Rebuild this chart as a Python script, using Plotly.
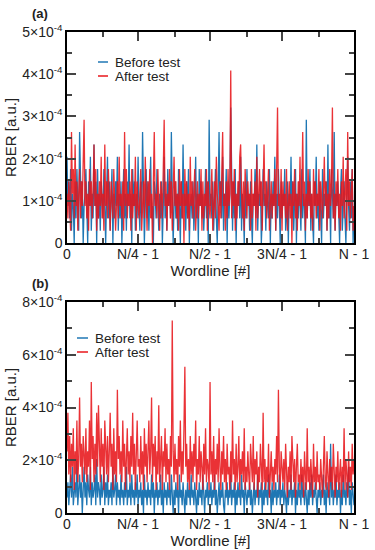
import plotly.graph_objects as go

# ---------------- data (error counts per wordline; RBER = count * unit) ----------------
RBER_UNIT = 2.92e-5
N = 320
x_tick_labels = ["0", "N/4 - 1", "N/2 - 1", "3N/4 - 1", "N - 1"]
series_names = ["Before test", "After test"]

a_before = [
    7,3,5,2,6,1,4,3,0,5,2,6,3,1,9,4,2,5,0,3,
    4,6,2,0,5,3,7,1,4,2,8,3,5,0,6,2,4,1,5,3,
    2,6,3,0,4,7,2,5,1,3,6,0,4,2,5,3,7,1,4,2,
    5,0,3,6,2,4,1,5,3,8,2,4,0,6,3,5,1,4,2,7,
    3,1,5,2,9,4,0,3,6,2,5,1,4,7,2,3,0,5,4,2,
    6,3,1,4,2,5,0,3,7,2,4,1,6,3,5,2,9,4,0,3,
    5,2,4,1,6,3,0,5,2,8,3,4,1,5,2,6,0,3,4,2,
    5,1,3,7,2,4,0,6,3,5,2,4,1,3,6,2,5,0,10,3,
    4,2,5,1,3,6,2,0,4,9,3,5,2,7,1,4,3,6,0,5,
    2,4,11,3,1,5,2,6,0,4,3,5,2,7,1,4,3,0,5,2,
    6,3,4,1,5,2,0,4,3,6,2,8,1,4,3,5,0,2,6,3,
    4,1,5,3,2,6,0,4,2,5,3,7,1,4,2,6,3,0,5,2,
    4,3,6,1,2,5,0,4,3,7,2,5,1,3,6,0,4,2,5,3,
    1,6,2,4,3,0,10,2,5,3,6,1,4,2,0,5,3,7,2,4,
    1,5,3,0,6,2,4,3,5,1,8,2,4,0,6,3,2,9,1,4,
    3,5,2,0,4,6,1,3,5,2,0,4,7,3,1,5,2,6,0,3,
]
a_after = [
    4,2,5,3,1,9,4,6,2,8,3,5,1,4,6,2,5,3,7,10,
    3,5,2,4,1,6,3,5,2,4,8,3,6,1,4,2,5,3,7,2,
    4,1,8,3,5,2,6,4,1,5,3,2,6,4,1,3,5,2,7,3,
    4,2,5,1,9,3,6,2,4,3,5,1,6,2,4,3,7,1,5,3,
    2,4,6,1,3,5,2,7,4,1,5,3,6,2,4,0,5,9,3,4,
    2,6,3,1,5,4,2,6,10,3,5,1,4,3,6,2,5,1,4,7,
    3,5,2,4,1,6,3,5,2,4,0,6,3,5,2,4,1,7,3,5,
    2,4,6,1,3,5,2,4,3,6,1,5,2,4,3,6,1,5,3,2,
    4,6,1,3,5,2,7,4,3,1,5,2,6,9,3,4,1,5,2,6,
    3,4,14,2,5,3,6,1,4,2,5,3,7,8,4,2,5,1,6,3,
    2,5,3,4,1,6,2,4,3,5,1,7,2,4,6,3,5,1,4,8,
    3,5,2,4,6,1,3,5,2,4,3,6,1,5,11,3,4,2,6,1,
    5,3,4,2,6,1,3,5,2,4,0,5,3,6,2,4,1,5,3,7,
    2,4,9,3,5,1,4,2,6,3,5,2,4,1,6,3,5,2,4,3,
    6,1,5,3,2,4,7,3,5,1,4,2,6,3,5,11,2,4,1,5,
    3,6,2,4,1,5,3,7,2,4,6,1,9,3,5,2,4,6,1,3,
]
b_before = [
    2,4,1,3,5,2,6,1,3,4,2,7,1,3,5,2,4,0,3,6,
    2,4,1,5,3,2,6,1,4,2,3,5,1,7,2,4,3,1,5,2,
    3,6,1,4,2,5,1,3,2,4,1,6,2,3,5,1,4,2,3,1,
    5,2,3,1,4,2,6,1,3,2,4,1,5,2,3,1,4,2,5,1,
    3,2,4,1,3,0,5,2,3,1,4,2,3,1,5,2,4,0,3,2,
    4,1,3,2,5,1,3,0,4,2,3,1,4,2,3,1,5,2,0,3,
    1,4,2,3,0,5,2,3,1,4,2,0,3,1,4,2,3,1,5,2,
    3,1,4,2,0,3,1,4,2,3,1,5,2,0,3,2,4,1,3,2,
    4,1,3,2,5,1,3,0,2,4,1,3,2,4,1,0,3,2,4,1,
    3,2,5,1,3,2,4,0,3,1,4,2,3,1,5,2,3,0,4,2,
    1,3,2,4,1,3,0,2,4,1,3,2,5,1,3,2,4,0,3,1,
    4,2,3,1,5,2,3,0,4,1,3,2,4,1,3,2,5,1,3,2,
    4,1,3,2,0,4,1,3,2,5,1,3,2,4,0,3,1,4,2,3,
    1,5,2,3,1,4,2,0,3,1,4,2,5,1,3,2,4,1,0,3,
    2,4,1,3,2,5,1,3,0,4,2,3,1,9,2,4,1,3,2,5,
    1,3,2,4,0,3,1,5,2,3,1,4,2,6,1,3,0,4,2,1,
]
b_after = [
    8,13,5,10,4,9,6,11,3,8,5,12,4,7,15,6,9,4,10,7,
    5,11,4,8,6,12,3,17,7,10,4,9,5,13,6,14,8,4,11,6,
    9,3,12,7,5,10,4,8,13,6,9,3,11,5,8,4,16,7,10,5,
    8,4,12,6,9,3,7,11,5,8,4,10,6,13,5,9,3,8,12,6,
    7,4,10,5,8,3,11,6,9,4,7,12,5,8,15,4,9,6,10,3,
    8,5,14,4,7,10,3,8,6,11,4,9,5,7,3,10,6,25,8,4,
    9,5,7,3,10,6,12,4,8,5,11,19,6,9,4,7,3,10,5,8,
    4,9,6,12,3,7,5,10,4,8,6,3,9,5,11,4,7,6,3,17,
    5,8,4,10,3,7,5,9,4,11,6,3,8,5,10,4,7,3,9,5,
    6,3,8,4,12,5,7,3,9,4,6,10,3,7,5,8,4,11,3,6,
    4,8,5,3,9,6,4,10,3,7,5,8,2,6,4,9,5,3,13,4,
    7,3,6,4,9,2,5,8,4,6,3,7,5,10,4,16,6,3,8,5,
    4,7,3,9,5,2,6,4,8,3,10,5,4,7,2,6,9,4,5,3,
    7,4,6,2,8,5,3,11,4,6,3,7,5,2,9,4,6,3,8,4,
    5,3,7,4,2,6,10,4,3,8,5,2,7,4,6,3,9,5,2,6,
    4,8,3,5,7,2,6,4,11,3,7,5,2,8,4,6,3,9,5,7,
]
a_y_ticks = [0, 1e-4, 2e-4, 3e-4, 4e-4, 5e-4]
a_y_labels = ["0", "1×10<sup>-4</sup>", "2×10<sup>-4</sup>", "3×10<sup>-4</sup>",
              "4×10<sup>-4</sup>", "5×10<sup>-4</sup>"]
b_y_ticks = [0, 2e-4, 4e-4, 6e-4, 8e-4]
b_y_labels = ["0", "2×10<sup>-4</sup>", "4×10<sup>-4</sup>", "6×10<sup>-4</sup>",
              "8×10<sup>-4</sup>"]

# ---------------- figure ----------------
W, H = 375, 550
BLUE = "#1f77b4"
RED = "#e8161b"
FONT = "Liberation Sans, Arial, Helvetica, sans-serif"

xs = list(range(N))
x_tick_vals = [0, N // 4 - 1, N // 2 - 1, 3 * N // 4 - 1, N - 1]
x_minor_vals = [N // 8, 3 * N // 8, 5 * N // 8, 7 * N // 8]

fig = go.Figure()
for xa, ya, before, after in [("x", "y", a_before, a_after), ("x2", "y2", b_before, b_after)]:
    fig.add_trace(go.Scatter(x=xs, y=[v * RBER_UNIT for v in before], mode="lines",
                             line=dict(color=BLUE, width=1.3), name=series_names[0],
                             xaxis=xa, yaxis=ya, showlegend=False))
    fig.add_trace(go.Scatter(x=xs, y=[v * RBER_UNIT for v in after], mode="lines",
                             line=dict(color=RED, width=1.3), opacity=0.88, name=series_names[1],
                             xaxis=xa, yaxis=ya, showlegend=False))

def px(x):
    return x / W

def py(y):
    return 1 - y / H

xdom = [px(67), px(354)]
common_x = dict(domain=xdom, range=[0, N - 1], tickmode="array", tickvals=x_tick_vals,
                ticktext=x_tick_labels, ticks="inside", ticklen=9, tickwidth=1.5,
                showline=True, linecolor="black", linewidth=1.5, mirror="allticks",
                showgrid=False, zeroline=False, ticklabelstandoff=-3,
                minor=dict(tickmode="array", tickvals=x_minor_vals, ticks="inside",
                           ticklen=5, tickwidth=1.5, showgrid=False),
                tickfont=dict(size=14, color="#222"),
                title=dict(text="Wordline [#]", font=dict(size=15, color="#222"), standoff=0))
common_y = dict(ticks="inside", ticklen=9, tickwidth=1.5, tickmode="array",
                showline=True, linecolor="black", linewidth=1.5, mirror="allticks",
                showgrid=False, zeroline=False,
                tickfont=dict(size=14, color="#222"),
                title=dict(text="RBER [a.u.]", font=dict(size=15, color="#222"), standoff=2))

fig.update_layout(
    width=W, height=H, margin=dict(l=0, r=0, t=0, b=0, autoexpand=False),
    paper_bgcolor="white", plot_bgcolor="white",
    font=dict(family=FONT, color="#222"),
    xaxis=dict(common_x, anchor="y", automargin=False),
    yaxis=dict(common_y, domain=[py(243), py(32)], anchor="x", range=[0, 5e-4],
               tickvals=a_y_ticks, ticktext=a_y_labels, automargin=False,
               minor=dict(tickmode="linear", tick0=0, dtick=0.5e-4, ticks="inside",
                          ticklen=5, tickwidth=1.5, showgrid=False)),
    xaxis2=dict(common_x, anchor="y2", automargin=False),
    yaxis2=dict(common_y, domain=[py(513), py(302)], anchor="x2", range=[0, 8e-4],
                tickvals=b_y_ticks, ticktext=b_y_labels, automargin=False,
                minor=dict(tickmode="linear", tick0=0, dtick=1e-4, ticks="inside",
                           ticklen=5, tickwidth=1.5, showgrid=False)),
    showlegend=False,
)

# panel labels
for label, y in [("<b>(a)</b>", 13), ("<b>(b)</b>", 283)]:
    fig.add_annotation(text=label, x=px(30), y=py(y), xref="paper", yref="paper",
                       xanchor="left", yanchor="middle", showarrow=False,
                       font=dict(size=13, color="#222"))

# legends
for (lx0, lx1, tx, y0, y1) in [(98, 108, 113, 62, 76), (77, 88, 93, 338, 352)]:
    for name, color, y in [(series_names[0], BLUE, y0), (series_names[1], RED, y1)]:
        fig.add_shape(type="line", x0=px(lx0), x1=px(lx1), y0=py(y), y1=py(y),
                      xref="paper", yref="paper", line=dict(color=color, width=1.5))
        fig.add_annotation(text=name, x=px(tx), y=py(y), xref="paper", yref="paper",
                           xanchor="left", yanchor="middle", showarrow=False,
                           font=dict(size=13.5, color="#222"))

fig.write_html("out.html", config={"displayModeBar": False},
               post_script="document.body.style.margin='0';document.body.style.padding='0';")
